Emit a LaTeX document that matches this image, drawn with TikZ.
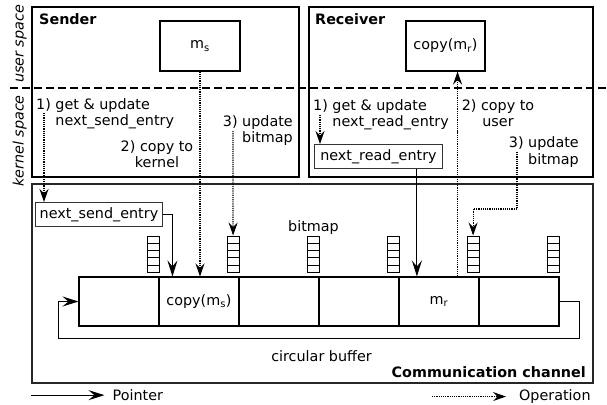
\documentclass[tikz,border=0pt]{standalone}
\usepackage{fontspec}
\setmainfont{DejaVu Sans}
\usetikzlibrary{arrows.meta,positioning,calc}
\tikzset{
  frame/.style={draw, line width=1.6bp, anchor=north west, inner sep=0pt},
  chan/.style={frame, draw=black!85, line width=1.8bp},
  box/.style={draw, line width=1.1bp, inner sep=0pt},
  entry/.style={draw=black!80, line width=0.9bp, anchor=north west, inner sep=0pt},
  cell/.style={draw, line width=1.1bp, minimum width=80bp, minimum height=49bp, inner sep=0pt},
  bmp/.style={draw, line width=0.9bp, minimum width=12bp, minimum height=36bp, inner sep=0pt, anchor=south east},
  lbl/.style={inner sep=0pt},
  ttl/.style={inner sep=0pt, font=\fontsize{14.4}{16.5}\selectfont\bfseries},
  side/.style={inner sep=0pt, rotate=90, anchor=base, font=\fontsize{14.4}{16.5}\selectfont\itshape},
  sep/.style={dash pattern=on 8bp off 4bp, line width=1.8bp},
  ptr/.style={line width=1.1bp, -{Stealth[length=16bp,width=10bp,inset=6bp]}},
  op/.style={line width=1.2bp, densely dotted, -{Stealth[length=13bp,width=9bp,inset=4.5bp]}},
}
\begin{document}
\begin{tikzpicture}[x=1bp,y=-1bp,font=\fontsize{14.4}{16.5}\selectfont]
 \useasboundingbox (0,0) rectangle (607,404);
 \node[frame, minimum width=267bp, minimum height=170bp] (snd) at (31,6) {};
 \node[frame, minimum width=284bp, minimum height=170bp] (rcv) at (308,6) {};
 \node[chan, minimum width=561bp, minimum height=199bp] (ch) at (31,183) {};
 \draw[sep] (10,88) -- (607,88);
 \node[side] (us) at (23.5,44) {user space};
 \node[side] (ks) at (23.5,141) {kernel space};
 \node[ttl, anchor=base west] (sndt) at (39,24) {Sender};
 \node[ttl, anchor=base west] (rcvt) at (315,24) {Receiver};
 \node[ttl, anchor=base east] (cht) at (586,377) {Communication channel};
 \node[box, minimum width=80bp, minimum height=50bp] (ms) at (200,46) {m\textsubscript{s}};
 \node[box, minimum width=79bp, minimum height=50bp] (cmr) at (445.5,46) {copy(m\textsubscript{r})};
 \foreach \i/\txt in {1/{},2/{copy(m\textsubscript{s})},3/{},4/{},5/{m\textsubscript{r}},6/{}} {
  \node[cell] (c\i) at (39+80*\i,301.5) {\txt};
  \node[bmp] (b\i) at ([yshift=4bp]c\i.north east) {};
  \foreach \k in {1,...,4}
   \draw[line width=0.8bp] ($(b\i.north west)!\k/5!(b\i.south west)$) -- ($(b\i.north east)!\k/5!(b\i.south east)$);
 }
 \node[lbl, anchor=base] (bml) at (313.5,231) {bitmap};
 \node[lbl, anchor=base] (cbl) at (321.5,361) {circular buffer};
 \draw[ptr] (c6.east) -- ++(20,0) -- ++(0,37) -| ([xshift=-20bp]c1.west) -- (c1.west);
 % sender side
 \node[lbl, anchor=north west, align=left] (s1t) at (36,98) {1) get \& update\\\phantom{1) }next\_send\_entry};
 \node[lbl, anchor=north, align=center] (s2t) at (157,140) {2) copy to\\kernel};
 \node[lbl, anchor=north east, align=right] (s3t) at (293,115) {3) update\\bitmap};
 \node[entry, minimum width=127bp, minimum height=24bp] (nse) at (35,202) {next\_send\_entry};
 \coordinate (s1) at (44,113);
 \coordinate (s3) at (233,131);
 \draw[op] (s1) -- (s1 |- nse.north);
 \draw[op] (ms.south) -- (ms.south |- c2.north);
 \draw[op] (s3) -- (b2.north);
 \draw[ptr] (nse.east) -| ([xshift=14bp]c2.north west);
 % receiver side
 \node[lbl, anchor=north west, align=left] (r1t) at (313,99) {1) get \& update\\\phantom{1) }next\_read\_entry};
 \node[lbl, anchor=north, align=center] (r2t) at (498,99) {2) copy to\\user};
 \node[lbl, anchor=north east, align=right] (r3t) at (579,136.5) {3) update\\bitmap};
 \node[entry, minimum width=128bp, minimum height=24bp] (nre) at (314,144) {next\_read\_entry};
 \coordinate (r1) at (320,115);
 \coordinate (r3) at (517,152);
 \draw[op] (r1) -- (r1 |- nre.north);
 \draw[ptr] ([xshift=-26bp]nre.south east) -- ([xshift=-26bp]nre.south east |- c5.north);
 \draw[op] ([xshift=-22bp]c5.north east) -- ([xshift=-22bp]c5.north east |- cmr.south);
 \draw[op] (r3) -- ++(0,57) -| (b5.north);
 % legend
 \node[lbl, anchor=base west] (lpt) at (112.5,400.5) {Pointer};
 \node[lbl, anchor=base west] (lot) at (519,400.5) {Operation};
 \draw[ptr] (lpt.west -| ch.south west) -- ([xshift=-8bp]lpt.west);
 \draw[op] ([xshift=-87bp]lot.west) -- ([xshift=-13bp]lot.west);
\end{tikzpicture}
\end{document}
